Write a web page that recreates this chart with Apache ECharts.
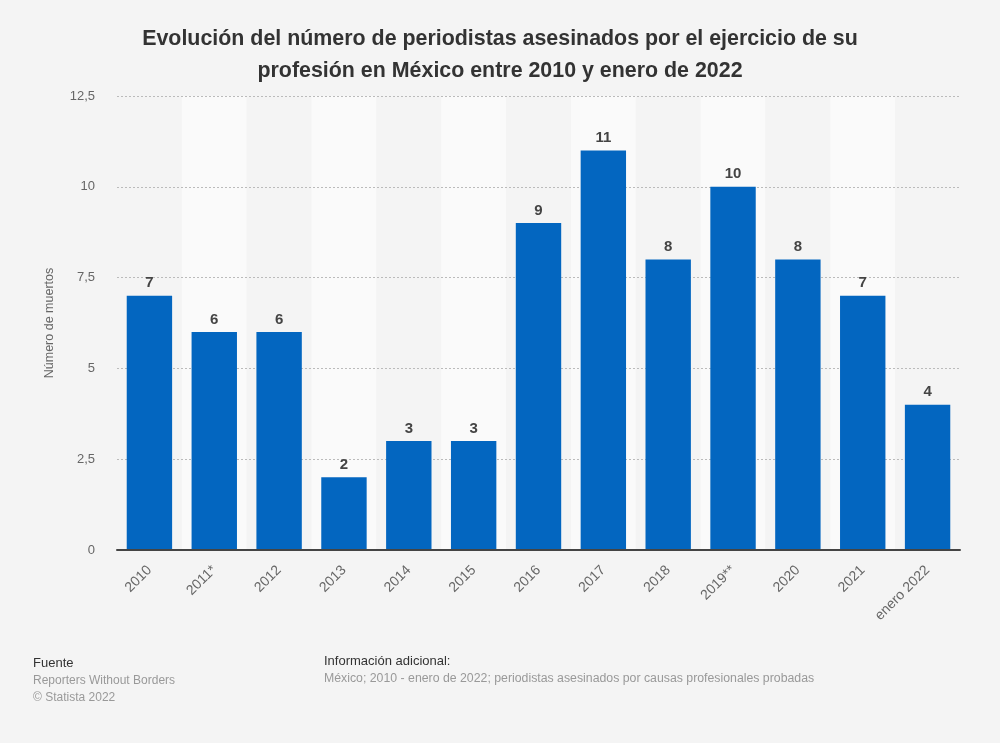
<!DOCTYPE html>
<html>
<head>
<meta charset="utf-8">
<script src="https://cdn.jsdelivr.net/npm/echarts@6/dist/echarts.min.js"></script>
<style>
html,body{margin:0;padding:0;background:#f4f4f4;}
#chart{width:1000px;height:743px;}
</style>
</head>
<body>
<div id="chart"></div>
<script>
const categories = ['2010','2011*','2012','2013','2014','2015','2016','2017','2018','2019**','2020','2021','enero 2022'];
const values = [7,6,6,2,3,3,9,11,8,10,8,7,4];
const yTicks = [0,2.5,5,7.5,10,12.5];

const chart = echarts.init(document.getElementById('chart'));
const ff = '"Liberation Sans", Arial, sans-serif';
chart.setOption({
  backgroundColor: '#f4f4f4',
  animation: false,
  title: {
    text: 'Evolución del número de periodistas asesinados por el ejercicio de su\nprofesión en México entre 2010 y enero de 2022',
    left: 'center', top: 18,
    textStyle: {fontFamily: ff, fontSize: 21.4, fontWeight: 'bold', color: '#333', lineHeight: 32}
  },
  grid: {left: 117, right: 40, top: 96, bottom: 193},
  xAxis: [{
    type: 'category', data: categories, z: 0,
    axisLine: {show: false}, axisTick: {show: false}, axisLabel: {show: false, interval: 0},
    splitArea: {show: true, interval: 0, areaStyle: {color: ['#f4f4f4', '#fafafa']}}
  }, {
    type: 'category', data: categories, z: 4, position: 'bottom',
    axisLine: {onZero: false, lineStyle: {color: '#444', width: 2}},
    axisTick: {show: false},
    axisLabel: {rotate: 45, interval: 0, fontFamily: ff, fontSize: 14, color: '#666', margin: 18},
    splitLine: {show: false}, splitArea: {show: false}
  }],
  yAxis: {
    type: 'value', min: 0, max: 12.5, interval: 2.5, z: 1,
    name: 'Número de muertos', nameLocation: 'middle', nameGap: 61,
    nameTextStyle: {fontFamily: ff, fontSize: 12.5, color: '#666'},
    axisLine: {show: false}, axisTick: {show: false},
    axisLabel: {fontFamily: ff, fontSize: 13, color: '#666', margin: 22,
      formatter: v => yTicks.includes(v) ? String(v).replace('.', ',') : ''},
    splitLine: {lineStyle: {color: '#bbb', type: [2, 2], width: 1}}
  },
  series: [{
    type: 'bar', data: values, barWidth: '70%', z: 3, xAxisIndex: 0,
    itemStyle: {color: '#0366c0'},
    label: {show: true, position: 'top', distance: 5, fontFamily: ff, fontSize: 15, fontWeight: 'bold', color: '#444'}
  }],
  graphic: [
    {type: 'text', left: 33, top: 657, style: {text: 'Fuente', font: '13px ' + ff, fill: '#333'}},
    {type: 'text', left: 33, top: 675, style: {text: 'Reporters Without Borders', font: '12px ' + ff, fill: '#999'}},
    {type: 'text', left: 33, top: 692, style: {text: '© Statista 2022', font: '12px ' + ff, fill: '#999'}},
    {type: 'text', left: 324, top: 655, style: {text: 'Información adicional:', font: '13px ' + ff, fill: '#333'}},
    {type: 'text', left: 324, top: 673, style: {text: 'México; 2010 - enero de 2022; periodistas asesinados por causas profesionales probadas', font: '12.3px ' + ff, fill: '#999'}}
  ]
});
</script>
</body>
</html>
